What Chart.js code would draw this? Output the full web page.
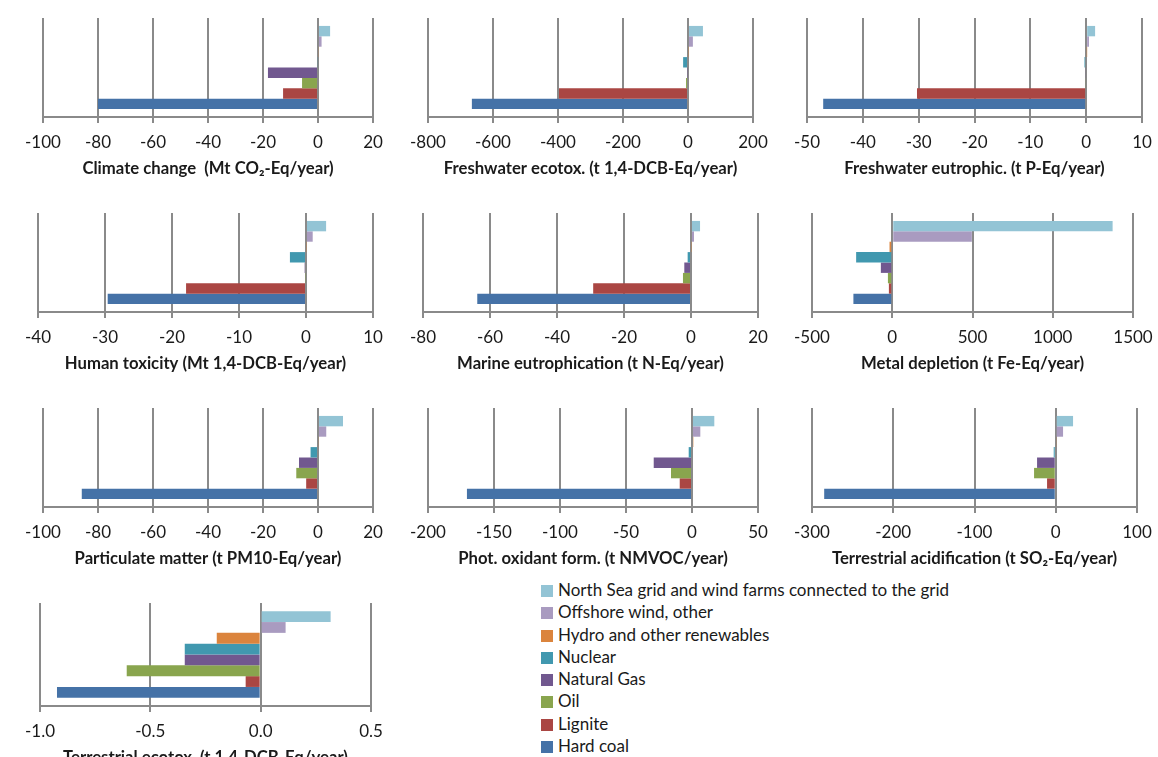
<!DOCTYPE html>
<html>
<head>
<meta charset="utf-8">
<script src="https://cdn.jsdelivr.net/npm/chart.js@4.4.1/dist/chart.umd.min.js"></script>
<style>
  body { margin: 0; background: #fff; width: 1158px; height: 757px; overflow: hidden; position: relative; font-family: Lato, sans-serif; }
  .panel { position: absolute; }
  #legend { position: absolute; left: 541px; top: 579px; font-size: 17px; color: #1a1a1a; }
  #legend div { height: 22.3px; line-height: 22.3px; white-space: nowrap; }
  #legend span { display: inline-block; width: 12px; height: 12px; margin-right: 5px; vertical-align: -1px; }
</style>
</head>
<body>
<div id="legend"></div>
<script>
// energy sources, top bar to bottom bar
const sources = ['North Sea grid and wind farms connected  to the grid', 'Offshore wind, other', 'Hydro and other renewables',
  'Nuclear', 'Natural Gas', 'Oil', 'Lignite', 'Hard coal'];
const colors = ['#93C4D5', '#A99BC0', '#DB843D', '#4198AF', '#71588F', '#89A54E', '#AA4643', '#4572A7'];

// values per impact category, same order as sources
const climateChange = [4.4, 1.3, 0.3, -0.3, -18.2, -5.8, -12.7, -80];
const freshwaterEcotox = [46, 15, 2, -15, -2, -6, -397, -665];
const freshwaterEutrophic = [1.6, 0.5, 0.1, -0.3, -0.2, -0.2, -30.3, -47.1];
const humanToxicity = [3.0, 1.0, 0.1, -2.4, -0.2, -0.1, -17.9, -29.6];
const marineEutrophication = [2.7, 0.9, 0.2, -1.0, -2.0, -2.4, -29.2, -63.8];
const metalDepletion = [1373, 496, -17, -225, -71, -27, -21, -242];
const particulateMatter = [9.1, 3.0, 0.3, -2.7, -6.9, -7.9, -4.3, -85.9];
const photOxidant = [16.9, 6.3, 1.0, -2.5, -29, -15.9, -9.3, -170.5];
const terrestrialAcid = [21.3, 9, 1, -2.5, -23, -26.7, -10.7, -285];
const terrestrialEcotox = [0.317, 0.113, -0.199, -0.344, -0.344, -0.607, -0.068, -0.923];

const titles = ['Climate change  (Mt CO\u2082-Eq/year)', 'Freshwater ecotox. (t 1,4-DCB-Eq/year)', 'Freshwater eutrophic. (t P-Eq/year)',
  'Human toxicity (Mt 1,4-DCB-Eq/year)', 'Marine eutrophication (t N-Eq/year)', 'Metal depletion (t Fe-Eq/year)',
  'Particulate matter (t PM10-Eq/year)', 'Phot. oxidant form. (t NMVOC/year)', 'Terrestrial acidification (t SO\u2082-Eq/year)',
  'Terrestrial ecotox. (t 1,4-DCB-Eq/year)'];
const seriesList = [climateChange, freshwaterEcotox, freshwaterEutrophic, humanToxicity, marineEutrophication,
  metalDepletion, particulateMatter, photOxidant, terrestrialAcid, terrestrialEcotox];

// axis ticks
const axisMin = [-100, -800, -50, -40, -80, -500, -100, -200, -300, -1.0];
const axisMax = [20, 200, 10, 10, 20, 1500, 20, 50, 100, 0.5];
const axisStep = [20, 200, 10, 10, 20, 500, 20, 50, 100, 0.5];
const decimals = [0, 0, 0, 0, 0, 0, 0, 0, 0, 1];

// plot boxes [left, right, top, bottom] in page pixels
const boxes = [
  [43, 373, 18, 117], [428, 753, 18, 117], [807, 1142, 18, 117],
  [38, 373, 213, 312], [423, 758, 213, 312], [812, 1133, 213, 312],
  [43, 373, 408, 507], [428, 758, 408, 507], [812, 1137, 408, 507],
  [40, 371, 603, 706]
];

const PAD_L = 40, PAD_R = 40, PAD_T = 10, AXIS_H = 62;
const gridColor = '#8a8a8a';

seriesList.forEach((vals, i) => {
  const [l, r, t, b] = boxes[i];
  const canvas = document.createElement('canvas');
  canvas.className = 'panel';
  const w = (r - l) + PAD_L + PAD_R;
  const h = (b - t) + PAD_T + AXIS_H;
  canvas.style.left = (l - PAD_L) + 'px';
  canvas.style.top = (t - PAD_T) + 'px';
  canvas.style.width = w + 'px';
  canvas.style.height = h + 'px';
  canvas.width = w;
  canvas.height = h;
  document.body.appendChild(canvas);

  new Chart(canvas.getContext('2d'), {
    type: 'bar',
    data: {
      labels: [''],
      datasets: sources.map((s, k) => ({
        label: s,
        data: [vals[k]],
        backgroundColor: colors[k],
        borderWidth: 0
      }))
    },
    options: {
      indexAxis: 'y',
      responsive: false,
      animation: false,
      categoryPercentage: 0.84,
      barPercentage: 1,
      layout: { padding: { left: PAD_L, right: PAD_R, top: PAD_T, bottom: 0 } },
      plugins: { legend: { display: false }, tooltip: { enabled: false } },
      scales: {
        y: { display: false },
        x: {
          min: axisMin[i],
          max: axisMax[i],
          afterFit: (scale) => { scale.height = AXIS_H; },
          grid: { color: gridColor, lineWidth: 2, tickLength: 6, drawOnChartArea: true },
          border: { display: true, color: gridColor, width: 2 },
          ticks: {
            stepSize: axisStep[i],
            autoSkip: false,
            maxRotation: 0,
            padding: 9,
            color: '#1a1a1a',
            font: { family: 'Lato', size: 17 },
            callback: (v) => Number(v).toFixed(decimals[i])
          },
          title: {
            display: true,
            text: titles[i],
            color: '#1a1a1a',
            padding: 0,
            font: { family: 'Lato', size: 16.7, weight: 'bold' }
          }
        }
      }
    }
  });
});

// legend
const legend = document.getElementById('legend');
sources.forEach((s, k) => {
  const row = document.createElement('div');
  row.innerHTML = '<span style="background:' + colors[k] + '"></span>' + s;
  legend.appendChild(row);
});
</script>
</body>
</html>
